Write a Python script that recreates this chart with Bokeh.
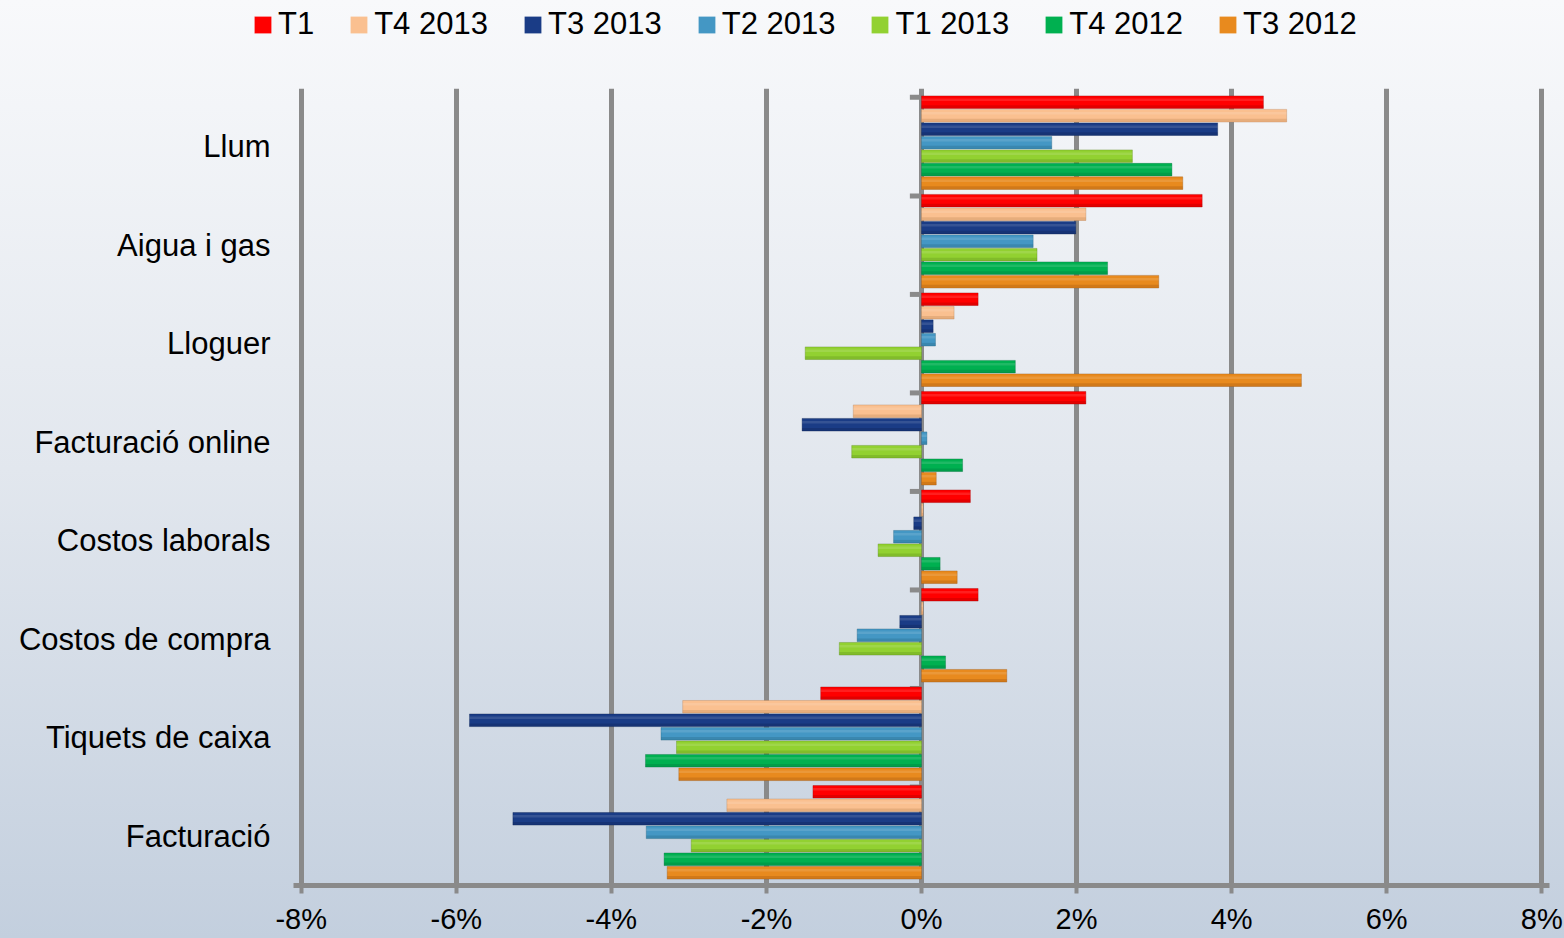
from bokeh.plotting import figure
from bokeh.layouts import column
from bokeh.models import (Range1d, FixedTicker, PrintfTickFormatter, Legend,
                          LegendItem, ColumnDataSource)
from bokeh.transform import dodge
from bokeh.embed import file_html
from bokeh.resources import INLINE

# ---------------- data ----------------
categories = ["Llum", "Aigua i gas", "Lloguer", "Facturació online",
              "Costos laborals", "Costos de compra", "Tiquets de caixa", "Facturació"]
series = ["T1", "T4 2013", "T3 2013", "T2 2013", "T1 2013", "T4 2012", "T3 2012"]

t1 = [4.41, 3.62, 0.73, 2.12, 0.63, 0.73, -1.30, -1.40]
t4_2013 = [4.71, 2.12, 0.42, -0.88, 0.02, 0.02, -3.08, -2.51]
t3_2013 = [3.82, 1.99, 0.15, -1.54, -0.10, -0.28, -5.83, -5.27]
t2_2013 = [1.68, 1.44, 0.18, 0.07, -0.36, -0.83, -3.36, -3.55]
t1_2013 = [2.72, 1.49, -1.50, -0.90, -0.56, -1.06, -3.16, -2.97]
t4_2012 = [3.23, 2.40, 1.21, 0.53, 0.24, 0.31, -3.56, -3.32]
t3_2012 = [3.37, 3.06, 4.90, 0.19, 0.46, 1.10, -3.13, -3.28]
values = [t1, t4_2013, t3_2013, t2_2013, t1_2013, t4_2012, t3_2012]

x_ticks = [-8, -6, -4, -2, 0, 2, 4, 6, 8]

colors = ["#FF0000", "#FAC090", "#1A3C86", "#4497C4", "#92D131", "#00B050", "#E88A1E"]
darks = ["#A00000", "#B98250", "#0C2250", "#25627F", "#5A8A1A", "#00703A", "#9A5410"]

# ---------------- main figure ----------------
n = len(categories)
p = figure(width=1564, height=888, output_backend="svg", toolbar_location=None,
           x_range=Range1d(-8.1, 8.1), y_range=Range1d(-0.5, n - 0.5 + 0.09),
           min_border_left=293, min_border_right=15, min_border_top=38,
           min_border_bottom=53)
p.frame_align = False
p.background_fill_alpha = 0
p.border_fill_alpha = 0
p.outline_line_color = None

# axes
p.xaxis.ticker = FixedTicker(ticks=x_ticks)
p.xaxis.formatter = PrintfTickFormatter(format="%d%%")
p.xaxis.axis_line_color = "#8A8A8A"
p.xaxis.axis_line_width = 5
p.xaxis.major_tick_line_color = "#8A8A8A"
p.xaxis.major_tick_line_width = 4
p.xaxis.major_tick_out = 8
p.xaxis.major_tick_in = 0
p.xaxis.minor_tick_line_color = None
p.xaxis.major_label_standoff = 9
p.xaxis.major_label_text_font = "Liberation Sans"
p.xaxis.major_label_text_font_size = "29px"
p.xaxis.major_label_text_color = "black"

p.yaxis.ticker = FixedTicker(ticks=list(range(n)))
p.yaxis.major_label_overrides = {n - 1 - i: c for i, c in enumerate(categories)}
p.yaxis.axis_line_color = None
p.yaxis.major_tick_line_color = None
p.yaxis.minor_tick_line_color = None
p.yaxis.major_label_standoff = 17
p.yaxis.major_label_text_font = "Liberation Sans"
p.yaxis.major_label_text_font_size = "31px"
p.yaxis.major_label_text_color = "black"

p.xgrid.ticker = FixedTicker(ticks=x_ticks)
p.xgrid.grid_line_color = "#8A8A8A"
p.xgrid.grid_line_width = 5
p.ygrid.grid_line_color = None

# group boundary marks on the zero axis
ypos = [n - 1 - i for i in range(n)]
p.segment(x0=-0.15, x1=0, y0=[y + 0.5 for y in ypos], y1=[y + 0.5 for y in ypos],
          line_color="#8A8A8A", line_width=5)

# ---------------- legend strip (same sources, nothing in view) ----------------
lf = figure(width=1564, height=50, output_backend="svg", toolbar_location=None,
            x_range=Range1d(0, 1), y_range=Range1d(100, 101), min_border=0)
lf.frame_align = False
lf.axis.visible = False
lf.grid.visible = False
lf.outline_line_color = None
lf.background_fill_alpha = 0
lf.border_fill_alpha = 0

# ---------------- bars ----------------
pitch = 0.137
h = 0.128
shift = 0.04
items = []
for k, (name, vals) in enumerate(zip(series, values)):
    src = ColumnDataSource(dict(y=ypos, x=vals))
    off = (3 - k) * pitch + shift
    p.hbar(y=dodge("y", off), left=0, right="x", height=h, source=src,
           fill_color=colors[k], line_color=darks[k], line_width=0.6, line_alpha=0.6)
    # cylinder shading
    p.hbar(y=dodge("y", off - 0.37 * h), left=0, right="x", height=0.24 * h, source=src,
           fill_color=darks[k], fill_alpha=0.3, line_color=None)
    p.hbar(y=dodge("y", off + 0.2 * h), left=0, right="x", height=0.2 * h, source=src,
           fill_color="white", fill_alpha=0.12, line_color=None)
    lr = lf.hbar(y="y", left=0, right="x", height=h, source=src,
                 fill_color=colors[k], line_color=None)
    items.append(LegendItem(label=name, renderers=[lr]))

legend = Legend(items=items, orientation="horizontal", location=(252, 8),
                glyph_width=21, glyph_height=21, label_standoff=5, spacing=34,
                padding=0, margin=0, border_line_color=None,
                background_fill_alpha=0,
                label_text_font="Liberation Sans", label_text_font_size="31px",
                label_text_color="black")
lf.add_layout(legend, "center")

layout = column(lf, p, spacing=0)
layout.styles = {"background-image": "linear-gradient(to bottom, #f8f9fb 0%, #e2e7ee 50%, #c3cfde 100%)"}

open("out.html", "w").write(file_html(layout, INLINE))
